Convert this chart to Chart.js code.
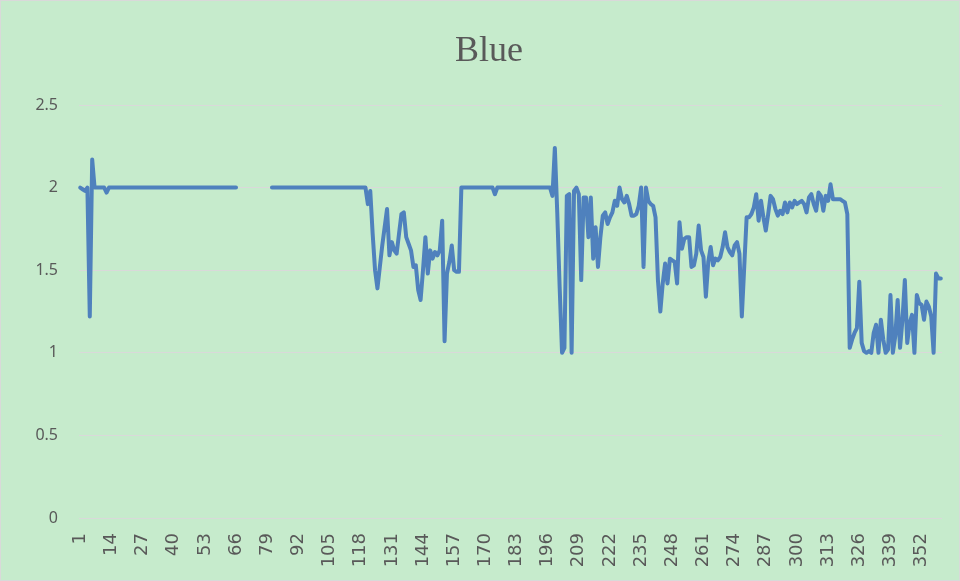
<!DOCTYPE html>
<html>
<head>
<meta charset="utf-8">
<script src="https://cdn.jsdelivr.net/npm/chart.js@4.4.1/dist/chart.umd.min.js"></script>
<style>
  html, body { margin: 0; padding: 0; background: #ffffff; }
  #wrap { position: relative; width: 960px; height: 581px; }
</style>
</head>
<body>
<div id="wrap"><canvas id="chart" width="960" height="581"></canvas></div>
<script>
// x categories 1..360, labelled every 13th
const categories = Array.from({ length: 360 }, (_, i) => String(i + 1));
const tickLabels = ['1', '14', '27', '40', '53', '66', '79', '92', '105', '118', '131', '144', '157', '170',
  '183', '196', '209', '222', '235', '248', '261', '274', '287', '300', '313', '326', '339', '352'];
const yTicks = [0, 0.5, 1, 1.5, 2, 2.5];
const chartTitle = 'Blue';

// Blue series (null = no data)
const blue = [
  2, 1.99, 1.98, 2, 1.22, 2.17, 2, 2, 2, 2,
  2, 1.97, 2, 2, 2, 2, 2, 2, 2, 2,
  2, 2, 2, 2, 2, 2, 2, 2, 2, 2,
  2, 2, 2, 2, 2, 2, 2, 2, 2, 2,
  2, 2, 2, 2, 2, 2, 2, 2, 2, 2,
  2, 2, 2, 2, 2, 2, 2, 2, 2, 2,
  2, 2, 2, 2, 2, 2, null, null, null, null,
  null, null, null, null, null, null, null, null, null, null,
  2, 2, 2, 2, 2, 2, 2, 2, 2, 2,
  2, 2, 2, 2, 2, 2, 2, 2, 2, 2,
  2, 2, 2, 2, 2, 2, 2, 2, 2, 2,
  2, 2, 2, 2, 2, 2, 2, 2, 2, 2,
  1.90, 1.98, 1.72, 1.50, 1.39, 1.52, 1.65, 1.76, 1.87, 1.59,
  1.67, 1.62, 1.60, 1.72, 1.84, 1.85, 1.70, 1.66, 1.62, 1.52,
  1.53, 1.38, 1.32, 1.50, 1.70, 1.48, 1.62, 1.57, 1.61, 1.59,
  1.62, 1.80, 1.07, 1.48, 1.55, 1.65, 1.50, 1.49, 1.49, 2,
  2, 2, 2, 2, 2, 2, 2, 2, 2, 2,
  2, 2, 2, 1.96, 2, 2, 2, 2, 2, 2,
  2, 2, 2, 2, 2, 2, 2, 2, 2, 2,
  2, 2, 2, 2, 2, 2, 2, 1.95, 2.24, 1.85,
  1.40, 1.00, 1.03, 1.95, 1.96, 1.00, 1.98, 2.00, 1.96, 1.44,
  1.94, 1.94, 1.70, 1.94, 1.57, 1.76, 1.52, 1.70, 1.83, 1.85,
  1.78, 1.82, 1.85, 1.92, 1.89, 2.00, 1.93, 1.91, 1.95, 1.90,
  1.83, 1.83, 1.84, 1.89, 2.00, 1.52, 2.00, 1.92, 1.90, 1.89,
  1.82, 1.44, 1.25, 1.42, 1.54, 1.42, 1.57, 1.56, 1.55, 1.42,
  1.79, 1.63, 1.69, 1.70, 1.70, 1.52, 1.53, 1.60, 1.77, 1.62,
  1.58, 1.34, 1.55, 1.64, 1.53, 1.57, 1.56, 1.58, 1.64, 1.73,
  1.64, 1.61, 1.59, 1.65, 1.67, 1.60, 1.22, 1.52, 1.82, 1.82,
  1.84, 1.88, 1.96, 1.80, 1.92, 1.82, 1.74, 1.84, 1.95, 1.93,
  1.87, 1.83, 1.86, 1.84, 1.91, 1.85, 1.91, 1.88, 1.92, 1.90,
  1.91, 1.92, 1.90, 1.85, 1.94, 1.96, 1.90, 1.86, 1.97, 1.95,
  1.86, 1.95, 1.92, 2.02, 1.93, 1.93, 1.93, 1.93, 1.92, 1.91,
  1.84, 1.03, 1.08, 1.12, 1.15, 1.43, 1.06, 1.01, 1.00, 1.01,
  1.00, 1.12, 1.17, 1.00, 1.20, 1.08, 1.00, 1.02, 1.35, 1.00,
  1.10, 1.32, 1.03, 1.20, 1.44, 1.06, 1.18, 1.23, 1.00, 1.35,
  1.30, 1.29, 1.20, 1.31, 1.28, 1.22, 1.00, 1.48, 1.45, 1.45
];

// green chart background + the title, which sits a bit right of centre
const bgPlugin = {
  id: 'bg',
  beforeDraw(chart) {
    const ctx = chart.ctx;
    ctx.save();
    ctx.fillStyle = '#c6ebcc';
    ctx.fillRect(0, 0, chart.width, chart.height);
    ctx.strokeStyle = '#d9d9d9';
    ctx.lineWidth = 1;
    ctx.strokeRect(0.5, 0.5, chart.width - 1, chart.height - 1);
    ctx.restore();
  },
  afterDraw(chart) {
    const ctx = chart.ctx;
    ctx.save();
    ctx.fillStyle = '#595959';
    ctx.font = '36px "Liberation Serif"';
    ctx.textAlign = 'center';
    ctx.textBaseline = 'middle';
    ctx.fillText(chartTitle, 489, 52);
    ctx.restore();
  }
};

const ctx = document.getElementById('chart').getContext('2d');
new Chart(ctx, {
  type: 'line',
  data: {
    labels: categories,
    datasets: [{
      label: 'Blue',
      data: blue,
      borderColor: '#4f81bd',
      borderWidth: 4,
      borderCapStyle: 'round',
      borderJoinStyle: 'round',
      pointRadius: 0,
      tension: 0,
      spanGaps: false,
      fill: false
    }]
  },
  options: {
    responsive: false,
    animation: false,
    devicePixelRatio: 1,
    layout: { padding: { left: 21, right: 18, top: 105, bottom: 0 } },
    plugins: {
      legend: { display: false },
      tooltip: { enabled: false },
      title: { display: false }
    },
    scales: {
      x: {
        offset: true,
        grid: { display: false, drawTicks: false },
        border: { display: false },
        ticks: {
          autoSkip: false,
          minRotation: 90,
          maxRotation: 90,
          padding: 15,
          color: '#595959',
          font: { family: 'DejaVu Sans', size: 18 },
          callback: function (value, index) {
            const lab = categories[index];
            return tickLabels.includes(lab) ? lab : '';
          }
        },
        afterFit(scale) {
          scale.height = 63;
          scale.paddingLeft = 0;
          scale.paddingRight = 0;
        }
      },
      y: {
        min: 0,
        max: 2.5,
        afterBuildTicks(scale) { scale.ticks = yTicks.map(v => ({ value: v })); },
        grid: { color: '#d9d9d9', lineWidth: 1, drawTicks: false },
        border: { display: false },
        ticks: {
          padding: 21,
          color: '#595959',
          font: { family: 'Noto Sans', size: 16 },
          callback: v => String(v)
        },
        afterFit(scale) {
          scale.width = 58;
          scale.paddingTop = 0;
          scale.paddingBottom = 0;
        }
      }
    }
  },
  plugins: [bgPlugin]
});
</script>
</body>
</html>
